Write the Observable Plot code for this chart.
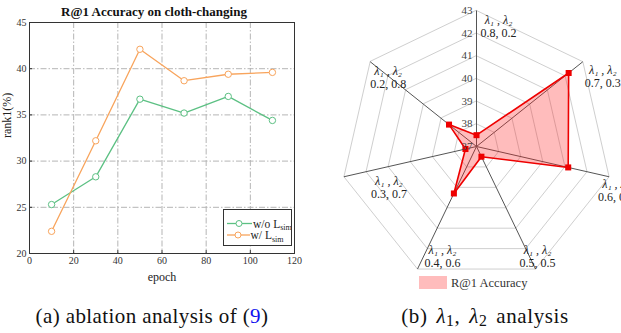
<!DOCTYPE html>
<html><head><meta charset="utf-8">
<script src="https://cdn.jsdelivr.net/npm/d3@7"></script>
<script src="https://cdn.jsdelivr.net/npm/@observablehq/plot@0.6"></script>
<style>
html,body{margin:0;padding:0;background:#fff;}
#wrap{position:relative;width:621px;height:333px;overflow:hidden;font-family:"Liberation Serif","Times New Roman",serif;color:#222;}
.abs{position:absolute;white-space:nowrap;}
.cap{font-family:"Liberation Serif",serif;font-size:21px;color:#111;transform:translate(-50%,-50%);}
sub{font-size:0.75em;vertical-align:-0.25em;line-height:0;}
</style></head><body><div id="wrap"></div>
<script>
// ---- data: left panel ----
const epochs = [10, 30, 50, 70, 90, 110];
const withoutLsim = [25.3, 28.3, 36.7, 35.2, 37.0, 34.4];
const withLsim = [22.4, 32.2, 42.1, 38.7, 39.4, 39.6];
const xTicks = [0, 20, 40, 60, 80, 100, 120];
const yTicks = [20, 25, 30, 35, 40, 45];
const seriesNames = ["w/o", "w/"];

// ---- data: right panel ----
const radarLabels = ["0.8, 0.2", "0.7, 0.3", "0.6, 0.4", "0.5, 0.5", "0.4, 0.6", "0.3, 0.7", "0.2, 0.8"];
const radarValues = [37.5, 42.2, 41.15, 37.5, 39.3, 37.5, 38.55];
const radarTicks = [37, 38, 39, 40, 41, 42, 43];

const green = "#5cc083", orange = "#f8a45c";
const wrap = document.getElementById("wrap");

// ---------- left chart ----------
const lineData = epochs.flatMap((e, i) => [
  {epoch: e, v: withoutLsim[i], s: seriesNames[0]},
  {epoch: e, v: withLsim[i], s: seriesNames[1]}
]);
const plotW = 310 - 29 - 16, plotH = 295 - 22 - 42;
const left = Plot.plot({
  width: 310, height: 295,
  marginLeft: 29, marginRight: 16, marginTop: 22, marginBottom: 42,
  style: {fontFamily: "Liberation Serif, serif", fontSize: "10px", color: "#333", background: "transparent"},
  x: {domain: [0, 120]},
  y: {domain: [20, 45]},
  color: {domain: seriesNames, range: [green, orange]},
  marks: [
    Plot.gridX(xTicks.slice(1, -1), {stroke: "#b5b5b5", strokeOpacity: 1, strokeDasharray: "6,2,1.5,2"}),
    Plot.gridY(yTicks.slice(1, -1), {stroke: "#b5b5b5", strokeOpacity: 1, strokeDasharray: "6,2,1.5,2"}),
    Plot.tickX(xTicks, {x: d => d, insetTop: plotH - 3, stroke: "#333"}),
    Plot.tickY(yTicks, {y: d => d, insetRight: plotW - 3, stroke: "#333"}),
    Plot.frame({stroke: "#333"}),
    Plot.axisX(xTicks, {tickSize: 0, tickPadding: 3, label: null}),
    Plot.axisY(yTicks, {tickSize: 0, tickPadding: 3, label: null}),
    Plot.line(lineData, {x: "epoch", y: "v", z: "s", stroke: "s", strokeWidth: 1.3}),
    Plot.dot(lineData, {x: "epoch", y: "v", stroke: "s", fill: "white", r: 3.2, strokeWidth: 1}),
    Plot.text(["epoch"], {frameAnchor: "bottom", dy: 27, fontSize: 12, fill: "#222"}),
    Plot.text(["rank1(%)"], {frameAnchor: "left", dx: -22, rotate: -90, fontSize: 12, fill: "#222"})
  ]
});
left.style.position = "absolute"; left.style.left = "0px"; left.style.top = "0px";
wrap.appendChild(left);

// ---------- radar chart ----------
const RW = 291, RH = 300, cx = 146, cy = 146, rPx = 136;
const rMin = radarTicks[0], rMax = radarTicks[radarTicks.length - 1];
const k = rPx / (rMax - rMin);
const n = radarLabels.length;
const ang = i => 2 * Math.PI * i / n;
const pol = (i, v) => ({x: (v - rMin) * Math.sin(ang(i)), y: (v - rMin) * Math.cos(ang(i))});

const rings = radarTicks.slice(1).flatMap(t => radarLabels.map((l, i) => ({...pol(i, t), t})));
const spokes = radarLabels.map((l, i) => pol(i, rMax));
const pts = radarValues.map((v, i) => pol(i, v));
const labelOff = [[22, 16], [20, 15], [7, 14], [2, -12], [25, -12], [45, 11], [18, 16]];
const labelPos = radarLabels.map((l, i) => {
  const p = pol(i, rMax);
  return {x: p.x + labelOff[i][0] / k, y: p.y - labelOff[i][1] / k, l};
});

const radar = Plot.plot({
  width: RW, height: RH, margin: 0,
  style: {fontFamily: "Liberation Serif, serif", background: "transparent", overflow: "visible"},
  x: {domain: [-cx / k, (RW - cx) / k], axis: null},
  y: {domain: [-(RH - cy) / k, cy / k], axis: null},
  marks: [
    Plot.line(rings, {x: "x", y: "y", z: "t", curve: "linear-closed", stroke: "#cfcfcf", strokeWidth: 1}),
    Plot.link(spokes, {x1: () => 0, y1: () => 0, x2: "x", y2: "y", stroke: "#555", strokeWidth: 1}),
    Plot.line(pts, {x: "x", y: "y", curve: "linear-closed", fill: "#ff2020", fillOpacity: 0.3, stroke: "#ee0000", strokeWidth: 1.6}),
    Plot.dot(pts, {x: "x", y: "y", symbol: "square", fill: "#ee0000", r: 3.4}),
    Plot.text(radarTicks, {x: () => 0, y: d => d - rMin, text: d => String(d), textAnchor: "end", dx: -4, fontSize: 11, fill: "#444"}),
    Plot.text(labelPos, {x: "x", y: "y", text: () => "λ₁ , λ₂", dy: -6.5, fontSize: 12, fontStyle: "italic", fill: "#222"}),
    Plot.text(labelPos, {x: "x", y: "y", text: "l", dy: 6.5, fontSize: 12, fill: "#222"})
  ]
});
radar.style.position = "absolute"; radar.style.left = "330px"; radar.style.top = "0px";
wrap.appendChild(radar);

// ---------- HTML text & legends ----------
function add(html, css) {
  const d = document.createElement("div");
  d.className = "abs";
  d.innerHTML = html;
  Object.assign(d.style, css);
  wrap.appendChild(d);
  return d;
}
// title
add("R@1 Accuracy on cloth-changing", {left: "154px", top: "12px", transform: "translate(-50%,-50%)", fontWeight: "bold", fontSize: "13px", color: "#111"});
// left legend
add(`<svg width="69" height="37" style="display:block">
  <line x1="3" x2="28" y1="13.5" y2="13.5" stroke="${green}" stroke-width="1.3"/>
  <circle cx="15" cy="13.5" r="3" fill="white" stroke="${green}"/>
  <line x1="3" x2="26" y1="25" y2="25" stroke="${orange}" stroke-width="1.3"/>
  <circle cx="14" cy="25" r="3" fill="white" stroke="${orange}"/>
  <text x="29" y="17.5" font-size="11.5" fill="#222" font-family="Liberation Serif">w/o L<tspan font-size="8" dy="2.5">sim</tspan></text>
  <text x="26.5" y="29" font-size="11.5" fill="#222" font-family="Liberation Serif">w/ L<tspan font-size="8" dy="2.5">sim</tspan></text>
</svg>`, {left: "223px", top: "209px", width: "67px", height: "35px", border: "1px solid #333", background: "#fff", overflow: "hidden"});
// radar legend
add("", {left: "419px", top: "276px", width: "28px", height: "13px", background: "rgba(255,32,32,0.3)"});
add("R@1 Accuracy", {left: "451px", top: "283px", transform: "translateY(-50%)", fontSize: "12.5px", color: "#333"});
// captions
const capA = add('(a) ablation analysis of (<span style="color:#1010ee">9</span>)', {left: "152px", top: "316px", letterSpacing: "0.4px"});
capA.classList.add("cap");
const capB = add('(b) <i>λ</i><sub>1</sub>, <i>λ</i><sub>2</sub> analysis', {left: "485px", top: "316px", letterSpacing: "0.6px", wordSpacing: "3px"});
capB.classList.add("cap");
</script>
</body></html>
